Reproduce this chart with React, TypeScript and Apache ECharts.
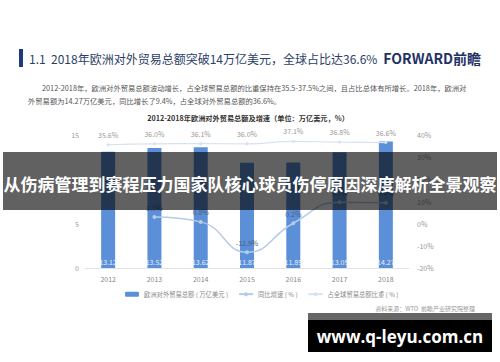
import React, { useEffect, useRef } from "react";
import * as echarts from "echarts";

const years = ["2012", "2013", "2014", "2015", "2016", "2017", "2018"];
const tradeTotal = [13.12, 13.52, 13.62, 11.87, 11.89, 13.05, 14.27];
const growthRate: (number | null)[] = [null, 3.0, 0.8, -12.9, 0.2, 9.7, 9.4];
const globalShare = [35.6, 36.0, 36.1, 36.0, 37.1, 36.8, 36.6];
const leftTicks = { min: 0, max: 15, interval: 5 };
const rightTicks = { min: -20, max: 40, interval: 10 };

const seriesNames = ["欧洲对外贸易总额 ( 万亿美元 )", "同比增速 ( % )", "占全球贸易总额比重 ( % )"];
const headline = "1.1  2018年欧洲对外贸易总额突破14万亿美元，全球占比达36.6%";
const para1 = "2012-2018年，欧洲对外贸易总额波动增长，占全球贸易总额的比重保持在35.5-37.5%之间，且占比总体有所增长。2018年，欧洲对";
const para2 = "外贸易额为14.27万亿美元，同比增长了9.4%，占全球对外贸易总额的36.6%。";
const chartTitle = "2012-2018年欧洲对外贸易总额及增速（单位：万亿美元，%）";
const banner = "从伤病管理到赛程压力国家队核心球员伤停原因深度解析全景观察";
const sourceText = "资料来源：WTO  前瞻产业研究院整理";
const siteText = "www.q-leyu.com.cn";
const brand = "FORWARD前瞻";

const FONT = '"Noto Sans CJK SC", "Noto Sans", sans-serif';
const pct = (p: any) => (p.value == null ? "" : Number(p.value).toFixed(1) + "%");

export default function App() {
  const ref = useRef<HTMLDivElement>(null);
  useEffect(() => {
    if (!ref.current) return;
    const chart = echarts.init(ref.current, undefined, { renderer: "svg" });
    chart.setOption({
      animation: false,
      backgroundColor: "#ffffff",
      textStyle: { fontFamily: FONT },
      grid: { left: 85, right: 91, top: 135, bottom: 94 },
      legend: {
        left: 120,
        top: 286,
        itemWidth: 14,
        itemHeight: 5,
        itemGap: 10,
        textStyle: { fontSize: 6.3, color: "#888", fontFamily: FONT },
        data: seriesNames,
      },
      xAxis: {
        type: "category",
        data: years,
        axisLine: { lineStyle: { color: "#dfe4ea" } },
        axisTick: { show: false },
        axisLabel: { color: "#888", fontSize: 7, margin: 7 },
      },
      yAxis: [
        {
          type: "value",
          min: leftTicks.min,
          max: leftTicks.max,
          interval: leftTicks.interval,
          axisLine: { show: false },
          axisTick: { show: false },
          splitLine: { show: false },
          axisLabel: { color: "#999", fontSize: 7, margin: 6 },
        },
        {
          type: "value",
          min: rightTicks.min,
          max: rightTicks.max,
          interval: rightTicks.interval,
          axisLine: { show: false },
          axisTick: { show: false },
          splitLine: { show: false },
          axisLabel: { color: "#999", fontSize: 7, margin: 8, formatter: "{value}%" },
        },
      ],
      series: [
        {
          name: seriesNames[0],
          type: "bar",
          data: tradeTotal,
          barWidth: 14,
          itemStyle: { color: "#5b8fd8" },
          label: {
            show: true,
            position: "insideBottom",
            distance: 3,
            color: "#eaf0fa",
            fontSize: 7,
          },
        },
        {
          name: seriesNames[1],
          type: "line",
          yAxisIndex: 1,
          data: growthRate,
          smooth: true,
          symbol: "circle",
          symbolSize: 4,
          z: 5,
          lineStyle: { color: "#b6cbe8", width: 1.5 },
          itemStyle: { color: "#b6cbe8" },
          label: {
            show: true,
            position: "top",
            distance: 4,
            color: "#4f5f78",
            fontSize: 7,
            formatter: pct,
          },
        },
        {
          name: seriesNames[2],
          type: "line",
          yAxisIndex: 1,
          data: globalShare,
          smooth: true,
          symbol: "circle",
          symbolSize: 3,
          z: 5,
          lineStyle: { color: "#d6e2f2", width: 1.2 },
          itemStyle: { color: "#d6e2f2" },
          label: {
            show: true,
            position: "top",
            distance: 5,
            color: "#999",
            fontSize: 7,
            formatter: pct,
          },
        },
      ],
      graphic: [
        { type: "rect", shape: { x: 19, y: 49, width: 4, height: 18 }, style: { fill: "#1f3a7a" } },
        {
          type: "text",
          x: 29,
          y: 58,
          style: {
            text: headline,
            fill: "#2c3e66",
            fontSize: 12,
            fontFamily: FONT,
            textVerticalAlign: "middle",
          },
        },
        {
          type: "text",
          x: 481,
          y: 58,
          style: {
            text: brand,
            fill: "#1f3266",
            fontSize: 14,
            fontWeight: "bold",
            fontFamily: FONT,
            textAlign: "right",
            textVerticalAlign: "middle",
          },
        },
        {
          type: "text",
          x: 42,
          y: 88,
          style: { text: para1, fill: "#555", fontSize: 7.3, fontFamily: FONT, textVerticalAlign: "middle" },
        },
        {
          type: "text",
          x: 28,
          y: 101,
          style: { text: para2, fill: "#555", fontSize: 7.3, fontFamily: FONT, textVerticalAlign: "middle" },
        },
        {
          type: "text",
          x: 248,
          y: 118,
          style: {
            text: chartTitle,
            fill: "#333",
            fontSize: 7.2,
            fontWeight: "bold",
            fontFamily: FONT,
            textAlign: "center",
            textVerticalAlign: "middle",
          },
        },
        {
          type: "text",
          x: 475,
          y: 308,
          style: { text: sourceText, fill: "#999", fontSize: 6, fontFamily: FONT, textAlign: "right", textVerticalAlign: "middle" },
        },
        {
          type: "rect",
          z: 100,
          shape: { x: 3, y: 152, width: 494, height: 58 },
          style: { fill: "rgba(0,0,0,0.62)" },
        },
        {
          type: "text",
          z: 101,
          x: 250,
          y: 183,
          style: {
            text: banner,
            fill: "#ffffff",
            fontSize: 17,
            fontWeight: "bold",
            fontFamily: FONT,
            textAlign: "center",
            textVerticalAlign: "middle",
          },
        },
        { type: "rect", z: 100, shape: { x: 308, y: 313, width: 184, height: 7 }, style: { fill: "#666" } },
        { type: "rect", z: 100, shape: { x: 308, y: 320, width: 184, height: 32 }, style: { fill: "#000" } },
        {
          type: "text",
          z: 101,
          x: 400,
          y: 336,
          style: {
            text: siteText,
            fill: "#fff",
            fontSize: 17,
            fontWeight: "bold",
            fontFamily: '"Open Sans", "Liberation Sans", sans-serif',
            textAlign: "center",
            textVerticalAlign: "middle",
          },
        },
      ],
    });
    return () => chart.dispose();
  }, []);
  return (
    <div
      ref={ref}
      style={{ position: "fixed", left: 0, top: 0, width: 500, height: 362, background: "#fff" }}
    />
  );
}
